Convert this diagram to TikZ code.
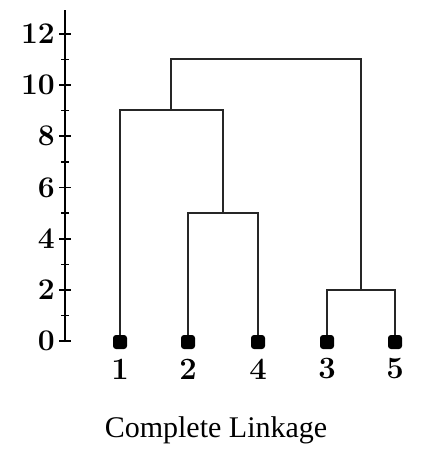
\documentclass[tikz,border=0pt]{standalone}
\usepackage{fontspec}
\newfontfamily\capfont{Liberation Serif}
\usetikzlibrary{calc}
\tikzset{
  leaf/.style={fill=black, rounded corners=3pt, minimum size=14pt, inner sep=0pt},
  leafnum/.style={font=\fontsize{31}{33}\selectfont\bfseries, inner sep=0pt},
  ticknum/.style={font=\fontsize{30}{32}\selectfont\bfseries, anchor=east, inner sep=0pt},
  link/.style={line width=1.8pt, black!85},
}
\begin{document}
\begin{tikzpicture}[x=1pt, y=-1pt]
	%%%%% START %%%%%
	\useasboundingbox[fill=white] (0,0) rectangle (428,460);
	
	% axis
	\draw[line width=2.2pt] (65,342) -- (65,10);
	\foreach \v in {0,2,...,12}
		\draw[line width=1.8pt] (59,341-25.6*\v) -- (71,341-25.6*\v);
	\foreach \v in {1,3,...,11}
		\draw[line width=1.4pt] (61,341-25.6*\v) -- (69,341-25.6*\v);
	\foreach \v in {0,2,...,12}
		\node[ticknum] (t\v) at (55,341-25.6*\v) {\v};
	
	% leaves
	\node[leaf] (l1) at (120,342) {};
	\node[leaf] (l2) at (188,342) {};
	\node[leaf] (l4) at (258,342) {};
	\node[leaf] (l3) at (327,342) {};
	\node[leaf] (l5) at (395,342) {};
	\foreach \k in {1,2,4,3,5}
		\node[leafnum] (n\k) at ($(l\k)+(0,27)$) {\k};
	
	% merges
	\coordinate (m24) at (223,213);
	\coordinate (m35) at (361,290);
	\coordinate (m124) at (171,110);
	\coordinate (mtop) at (266,59);
	
	\draw[link] (l2) |- (m24) -| (l4);
	\draw[link] (l3) |- (m35) -| (l5);
	\draw[link] (l1) |- (m124) -| (m24);
	\draw[link] (m124) |- (mtop) -| (m35);
	
	\node[font=\capfont\fontsize{30}{32}\selectfont] (cap) at (216,430) {Complete Linkage};
	%%%%% END %%%%%
\end{tikzpicture}
\end{document}
